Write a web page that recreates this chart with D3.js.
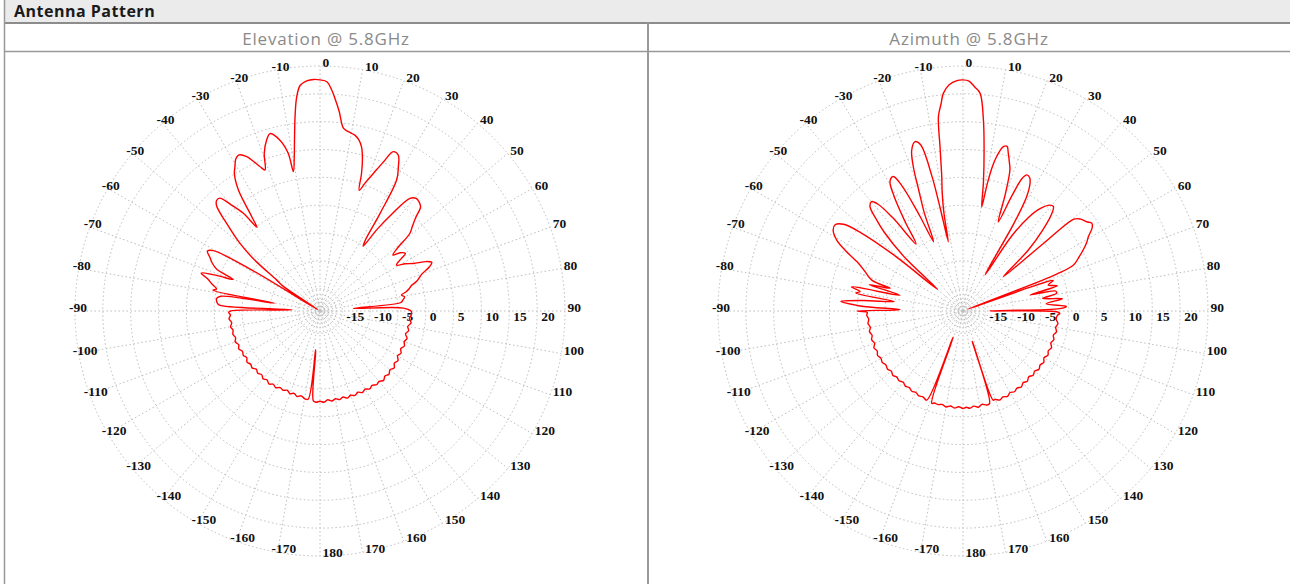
<!DOCTYPE html>
<html>
<head>
<meta charset="utf-8">
<script src="https://cdn.jsdelivr.net/npm/d3@7"></script>
<style>
  body { margin: 0; background: #fff; }
  svg { display: block; }
  .grid { fill: none; stroke: #bdbdbd; stroke-width: 1; stroke-dasharray: 1.5, 2.5; }
  .angle-label, .gain-label {
    font-family: "Liberation Serif", "Times New Roman", serif;
    font-weight: bold; font-size: 13.5px; fill: #111;
  }
  .pattern { fill: none; stroke: #ff0000; stroke-width: 1.4; stroke-linejoin: round; }
  .head { font-family: "Open Sans", sans-serif; font-weight: bold; font-size: 16px; letter-spacing: 0.5px; fill: #1a1a1a; }
  .col-title { font-family: "Open Sans", sans-serif; font-size: 17px; letter-spacing: 0.8px; fill: #8a8a8a; }
</style>
</head>
<body>
<div id="chart"></div>
<script>
const Title = "Antenna Pattern";
const ColumnTitles = ["Elevation @ 5.8GHz", "Azimuth @ 5.8GHz"];

// gain ring ticks (dB) and angle ticks (deg)
const GainTicks = [-15, -10, -5, 0, 5, 10, 15, 20, 25];
const GainLabels = [-15, -10, -5, 0, 5, 10, 15, 20];
const InnerRings = [-18.5, -17.7, -16.9, -16.1];
const AngleTicks = [0, 10, 20, 30, 40, 50, 60, 70, 80, 90, 100, 110, 120, 130, 140, 150, 160, 170, 180,
    -10, -20, -30, -40, -50, -60, -70, -80, -90, -100, -110, -120, -130, -140, -150, -160, -170];

// Elevation @ 5.8GHz : angle (deg), gain (dB)
const elevAngle = [
    -180, -177.5, -175.8, -173.8, -172.3, -170, -167.5, -165, -162.5, -160, -157.5, -155, -152.5, -150,
    -147.5, -145, -142.5, -140, -137.5, -135, -132.5, -130, -127.5, -125, -122.5, -120, -117.5, -115,
    -112.5, -110, -107.5, -105, -102.5, -100, -97.5, -95, -92.5, -91, -90, -87.5, -86.5, -85, -83, -81.5,
    -80.2, -79, -78, -76, -74, -72.3, -71, -70, -68, -66, -64, -62, -60.5, -59, -57.5, -56, -54.4, -52,
    -49.8, -46.8, -44.5, -43, -41.6, -40, -38.1, -37, -35.9, -34, -32, -30.5, -29, -27.6, -25.4, -22.6,
    -21.3, -19.5, -17.3, -15.7, -13.2, -11.4, -10.8, -9.5, -8.5, -7.2, -6.2, -5, -3.3, -1.5, 0, 1.7, 3,
    4, 5.5, 7.3, 9, 11.2, 12.8, 14.2, 15.5, 16.8, 18, 19.5, 21.2, 23, 24.7, 26.7, 28.5, 30.3, 31.6, 32.6,
    33.6, 35, 36.5, 38.6, 40.5, 42, 44, 45.7, 47.5, 49.2, 51, 52.5, 54, 56, 57.5, 59, 61, 63, 65, 66.5,
    68, 70, 71.5, 73, 74.5, 76, 77.5, 78.9, 80.5, 82.5, 84, 85.5, 88, 90.3, 92.5, 95, 97.5, 100, 102.5,
    105, 107.5, 110, 112.5, 115, 117.5, 120, 122.5, 125, 127.5, 130, 132.5, 135, 137.5, 140, 142.5, 145,
    147.5, 150, 152.5, 155, 157.5, 160, 162.5, 165, 167.5, 170, 172.5, 175, 177.5
];
const elevGain = [
    -2.8, -2.6, -2.8, -12, -3.0, -3.0, -3.4, -3.1, -3.5, -3.2, -3.6, -3.3, -3.5, -3.1,
    -3.4, -3.0, -3.4, -3.1, -3.5, -3.2, -3.5, -3.1, -3.3, -3.0, -3.4, -3.1, -3.3, -2.9,
    -3.2, -2.8, -3.1, -2.8, -3.0, -2.7, -3.0, -2.6, -2.9, -2.6, -2.9, -14, -0.8, -0.4, -0.3, -1.0,
    -10.7, 0.6, 0.0, 1.0, 2.0, 3.4, 0.5, -2.4, 1.0, 2.2, 3.0, 3.9, 3.0, -5, -18.5, -11, -9.4, -4,
    -0.2, 4.0, 7.5, 8.2, 8.1, 6.0, 3.3, -0.2, 1.9, 7.2, 10.0, 11.1, 12.2, 12.6, 11.7, 9.1,
    8.2, 11.0, 13.2, 14.1, 12.5, 9.9, 6.5, 9.0, 12.0, 16.6, 19.7, 21.7, 22.4, 22.6, 22.5, 22.2, 20.8,
    19.3, 17.0, 14.1, 13.6, 13.2, 12.5, 11.4, 9.5, 6.8, 3.8, 5.5, 7.5, 10.0, 12.5, 12.3, 10.5, 8.3, 1.6, -3.9,
    -5.0, -1.0, 2.5, 6.9, 7.6, 7.5, 7.0, 5.0, 3.5, 2.3, -1.2, -2.5, -1.2, -0.5, -2.0, -3.0, -1.5, -0.2, 2.0, 2.9,
    2.2, 0.5, -0.2, -0.9, -2.0, -2.5, -3.2, -4.1, -3.6, -4.0, -4.4, -13, -4.0, -2.6, -2.6, -2.9, -2.5, -3.0, -2.7,
    -3.1, -2.6, -2.9, -2.6, -3.0, -2.6, -2.9, -2.4, -2.7, -2.2, -2.6, -2.2, -2.5, -2.1, -2.5, -2.3, -2.7,
    -2.4, -2.8, -2.5, -2.9, -2.6, -2.9, -2.6, -3.0, -2.7, -3.0, -2.7, -3.0, -2.6
];

// Azimuth @ 5.8GHz : angle (deg), gain (dB)
const aziAngle = [
    -180, -177.5, -175, -172.5, -170, -167.5, -165, -162.8, -161.3, -159.5, -157.8, -155, -152.5, -150,
    -147.5, -145, -142.5, -140, -137.5, -135, -132.5, -130, -127.5, -125, -122.5, -120, -117.5, -115,
    -112.5, -110, -107.5, -105, -102.5, -100, -97.5, -95, -92.5, -90.8, -90, -88.8, -87.2, -85.5, -84,
    -82.2, -80.5, -79.3, -77.8, -76, -74.3, -72.7, -71.3, -68, -65.5, -63, -60.7, -58, -56, -54, -52.5,
    -51, -49.5, -47.5, -45, -43.5, -41.7, -39.9, -38.5, -37, -35, -33, -31, -29.4, -27.4, -26, -24.5,
    -23, -21.5, -20, -19, -17.7, -15.8, -14.3, -13, -12.5, -12, -11, -10, -9, -8, -7.2, -6, -5.2, -3.5,
    -1.5, 0, 1.5, 3, 4.5, 6.1, 7.5, 9, 10.2, 10.8, 11.5, 12.3, 13.8, 15, 16, 17.3, 18.4, 20, 21.6, 23, 24,
    25.1, 26.5, 27.7, 29.1, 30.2, 31.4, 33, 35, 37, 39.4, 40.9, 42.5, 44.5, 47, 49.6, 50, 50.4, 52, 54.2,
    55.7, 57.2, 59.3, 61, 63.1, 65, 67.4, 68.5, 69.3, 70.5, 71.3, 73, 75, 76.6, 77.8, 79.3, 81, 83, 85,
    87.5, 88.6, 89.6, 90.6, 91.5, 92.5, 95, 97.5, 100, 102.5, 105, 107.5, 110, 112.5, 115, 117.5, 120,
    122.5, 125, 127.5, 130, 132.5, 135, 137.5, 140, 142.5, 145, 147.5, 150, 152.5, 155, 157.5, 160, 161.3,
    163, 164, 166, 168.5, 171, 173.5, 176, 178
];
const aziGain = [
    -1.5, -1.8, -1.5, -1.8, -1.5, -1.8, -1.6, -1.7, -1.5, -14, -1.7, -2.0, -1.8, -2.1,
    -1.9, -2.2, -2.0, -2.3, -2.0, -2.2, -1.9, -2.2, -1.9, -2.1, -1.8, -2.0, -1.7, -2.0,
    -1.7, -2.1, -1.8, -2.1, -1.8, -2.1, -1.8, -2.0, -1.7, -1.8, 0.0, -7.7, -0.5, 3.0, -1.0,
    -6.5, 0.5, -0.2, 1.5, -7.3, -1.5, -5.3, -1.7, 0.0, 1.6, 4.5, 7.0, 8.5, 8.7, 7.5, 4.0,
    -3, -13, -5, 1.0, 3.5, 6.1, 6.6, 5.5, 2.0, -4.3, 0.0, 5.0, 7.7, 8.2, 6.0, 0.0,
    -5.5, 0.0, 4.5, 8.4, 11.3, 12.6, 11.8, 6.0, 0.0, -6.3, -1.0, 2.5, 5.4, 10.5, 16.2, 18.5, 20.2, 21.7,
    22.4, 22.5, 22.3, 21.3, 20.2, 15.5, 10.0, 4.5, 0.0, 4.3, 7.5, 9.4, 11.4, 11.6, 10.5, 9.0, 7.7, 3.0, -1.8, 3.5, 7.0,
    8.0, 7.8, 6.9, 4.5, -1.0, -11.4, -3.0, 1.5, 4.0, 5.6, 5.8, 4.5, 1.5, -3.0, -9.5, 0.0, 6.9, 7.8, 8.4,
    9.0, 8.6, 7.2, 6.4, 5.2, 4.0, 2.5, -1.0, -18, -6.3, -1.9, -3.0, -1.5, -6.6, -2.0, -1.9, -4.5, -1.0, -4.0,
    -0.4, -1.6, -14.2, -2.0, -1.6, -2.0, -2.2, -1.8, -2.1, -1.8, -2.2, -1.9, -2.2, -1.8, -2.1, -1.8, -2.2,
    -1.8, -2.1, -1.8, -2.2, -1.9, -2.3, -1.9, -2.2, -1.8, -2.1, -1.8, -2.1, -1.7, -2.0, -1.7, -2.1, -2.1,
    -13.3, -1.7, -1.6, -1.9, -1.5, -1.8, -1.5, -1.7
];

const width = 1290;
const height = 584;
const outerRadius = 245;
const rad = d => d * Math.PI / 180;

const svg = d3.select("#chart").append("svg")
    .attr("width", width)
    .attr("height", height);

// table frame
svg.append("rect").attr("x", 5).attr("y", 0).attr("width", width - 5).attr("height", 22).attr("fill", "#ebebeb");
svg.append("line").attr("x1", 5).attr("x2", width).attr("y1", 23).attr("y2", 23)
    .attr("stroke", "#8c8c8c").attr("stroke-width", 2);
svg.append("line").attr("x1", 5).attr("x2", width).attr("y1", 51.5).attr("y2", 51.5)
    .attr("stroke", "#999").attr("stroke-width", 1.5);
svg.append("line").attr("x1", 4.5).attr("x2", 4.5).attr("y1", 0).attr("y2", height)
    .attr("stroke", "#999").attr("stroke-width", 1.5);
svg.append("line").attr("x1", 648).attr("x2", 648).attr("y1", 23).attr("y2", height)
    .attr("stroke", "#999").attr("stroke-width", 2);

svg.append("text").attr("class", "head").attr("x", 14).attr("y", 17).text(Title);

const columnCenters = [326, 969];
ColumnTitles.forEach((t, i) => {
    svg.append("text").attr("class", "col-title")
        .attr("x", columnCenters[i]).attr("y", 45)
        .attr("text-anchor", "middle")
        .text(t);
});

function drawPolar(cx, cy, angles, gains) {
    const r = d3.scaleLinear().domain([-19, 25]).range([0, outerRadius]);
    const g = svg.append("g").attr("transform", `translate(${cx},${cy})`);

    // rings
    g.selectAll("circle.ring")
        .data(GainTicks.concat(InnerRings))
        .enter().append("circle")
            .attr("class", "grid")
            .attr("r", d => r(d));

    // spokes
    g.selectAll("line.spoke")
        .data(AngleTicks)
        .enter().append("line")
            .attr("class", "grid")
            .attr("x1", 0).attr("y1", 0)
            .attr("x2", d => outerRadius * Math.sin(rad(d)))
            .attr("y2", d => -outerRadius * Math.cos(rad(d)));

    // angle labels sit on the outer ring, left-justified
    g.selectAll("text.angle-label")
        .data(AngleTicks)
        .enter().append("text")
            .attr("class", "angle-label")
            .attr("x", d => outerRadius * Math.sin(rad(d)) + (d < 0 ? -6 : 2.5))
            .attr("y", d => -outerRadius * Math.cos(rad(d)) - 2)
            .attr("dominant-baseline", "middle")
            .text(d => d);

    // gain labels along the 90 deg axis
    g.selectAll("text.gain-label")
        .data(GainLabels)
        .enter().append("text")
            .attr("class", "gain-label")
            .attr("x", d => r(d) + 4)
            .attr("y", 7)
            .attr("dominant-baseline", "middle")
            .text(d => d);

    const line = d3.lineRadial()
        .angle(d => rad(d[0]))
        .radius(d => r(d[1]))
        .curve(d3.curveCatmullRomClosed.alpha(0.5));

    g.append("path")
        .datum(angles.map((a, i) => [a, gains[i]]))
        .attr("class", "pattern")
        .attr("d", line);
}

drawPolar(320, 311, elevAngle, elevGain);
drawPolar(963, 311, aziAngle, aziGain);
</script>
</body>
</html>
